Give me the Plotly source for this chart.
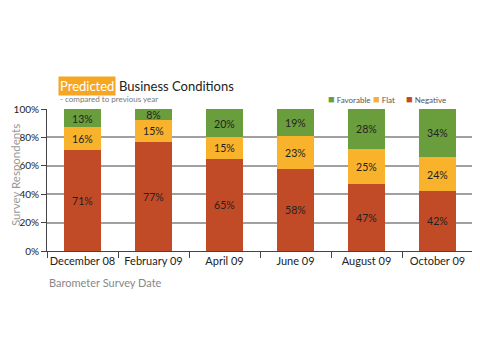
import plotly.graph_objects as go

categories = ["December 08", "February 09", "April 09", "June 09", "August 09", "October 09"]
negative = [71, 77, 65, 58, 47, 42]
flat = [16, 15, 15, 23, 25, 24]
favorable = [13, 8, 20, 19, 28, 34]
y_ticks = [0, 20, 40, 60, 80, 100]
y_tick_labels = ["0%", "20%", "40%", "60%", "80%", "100%"]

FONT = "Lato"
series = [
    ("Negative", negative, "#C24B27"),
    ("Flat", flat, "#F8B22C"),
    ("Favorable", favorable, "#6A9E3C"),
]

fig = go.Figure()
for name, vals, col in series:
    fig.add_trace(go.Bar(
        name=name, x=categories, y=vals, marker=dict(color=col, line=dict(width=0)),
        text=[f"{v}%" for v in vals], textposition="inside", insidetextanchor="middle",
        textfont=dict(family=FONT, size=11, color="#222222"), width=0.52,
        showlegend=False,
    ))

# page has an 8px body margin, so the figure is 8px smaller and coordinates offset
fig.update_layout(
    barmode="stack",
    width=472, height=352,
    margin=dict(l=39, r=7, t=101, b=109, autoexpand=False),
    paper_bgcolor="white", plot_bgcolor="white",
    font=dict(family=FONT, color="#222222"),
    showlegend=False,
    uniformtext=dict(minsize=8, mode="show"),
)
fig.update_xaxes(showline=True, linecolor="#444444", linewidth=1, ticks="outside",
                 tickson="boundaries", ticklen=6, tickcolor="#444444", tickangle=0,
                 tickfont=dict(size=11, color="#222222"), showgrid=False, automargin=False)
fig.update_yaxes(range=[0, 100], tickvals=y_ticks, ticktext=y_tick_labels,
                 showline=True, linecolor="#444444", linewidth=1, ticks="outside",
                 ticklen=5, tickcolor="#444444", tickfont=dict(size=10, color="#222222"),
                 showgrid=True, gridcolor="#A0A0A0", gridwidth=1.5, zeroline=False, automargin=False)

def px_x(p):
    return (p - 47) / 426

def px_y(p):
    return (251 - p) / 142

fig.add_annotation(text="Predicted", xref="paper", yref="paper", x=px_x(58), y=px_y(86),
                   xanchor="left", yanchor="middle", showarrow=False, bgcolor="#F5A623",
                   font=dict(size=13, color="white", family=FONT), borderpad=1)
fig.add_annotation(text="Business Conditions", xref="paper", yref="paper", x=px_x(117),
                   y=px_y(86), xanchor="left", yanchor="middle", showarrow=False,
                   font=dict(size=13, color="#222222", family=FONT))
fig.add_annotation(text="- compared to previous year", xref="paper", yref="paper", x=px_x(58),
                   y=px_y(99), xanchor="left", yanchor="middle", showarrow=False,
                   font=dict(size=8, color="#777777", family=FONT))
fig.add_annotation(text="Barometer Survey Date", xref="paper", yref="paper", x=0,
                   y=px_y(282), xanchor="left", yanchor="middle", showarrow=False,
                   font=dict(size=11, color="#888888", family=FONT))
fig.add_annotation(text="Survey Respondents", xref="paper", yref="paper", x=px_x(15),
                   y=px_y(175), xanchor="center", yanchor="middle", showarrow=False, textangle=-90,
                   font=dict(size=11.5, color="#999999", family=FONT), borderpad=0)

legend_items = [("Favorable", "#6A9E3C", 326), ("Flat", "#F8B22C", 371), ("Negative", "#C24B27", 404)]
for label, col, xp in legend_items:
    fig.add_annotation(text=f'<span style="color:{col};font-size:11px">■</span> {label}',
                       xref="paper", yref="paper",
                       x=px_x(xp), y=px_y(98), xanchor="left", yanchor="middle", showarrow=False,
                       font=dict(size=8, color="#555555", family=FONT))

fig.write_html("out.html")
